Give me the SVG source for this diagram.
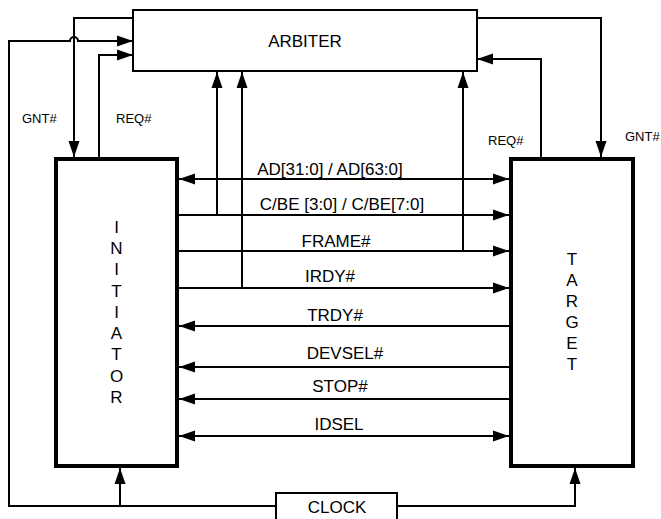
<svg xmlns="http://www.w3.org/2000/svg" width="661" height="519" viewBox="0 0 661 519">
<style>
.box{fill:#fff;stroke:#000;stroke-width:2}
.thick{fill:#fff;stroke:#000;stroke-width:4}
.ln{fill:none;stroke:#000;stroke-width:2}
.t{font-family:"Liberation Sans",Arial,sans-serif;font-size:17px;fill:#000;text-anchor:middle}
.s{font-family:"Liberation Sans",Arial,sans-serif;font-size:13px;fill:#000}
</style>
<defs>
<marker id="ah" markerUnits="userSpaceOnUse" markerWidth="16" markerHeight="12" refX="16" refY="6" orient="auto-start-reverse">
<path d="M0,0.5 L16,6 L0,11.5 Z" fill="#000"/>
</marker>
</defs>
<g id="connectors">
<path class="ln" d="M133,18 H74 V157" marker-end="url(#ah)"/>
<path class="ln" d="M276,506 H9 V41 H70 A4,4 0 0 1 78,41 H133" marker-end="url(#ah)"/>
<path class="ln" d="M99,157 V55 H133" marker-end="url(#ah)"/>
<path class="ln" d="M477,18 H601 V157" marker-end="url(#ah)"/>
<path class="ln" d="M541,157 V59 H477" marker-end="url(#ah)"/>
<path class="ln" d="M397,506 H575 V468" marker-end="url(#ah)"/>
<path class="ln" d="M120,506 V468" marker-end="url(#ah)"/>
<path class="ln" d="M217,215 V72" marker-end="url(#ah)"/>
<path class="ln" d="M242,288 V72" marker-end="url(#ah)"/>
<path class="ln" d="M463,251 V72" marker-end="url(#ah)"/>
<path class="ln" d="M179,179 H509" marker-start="url(#ah)" marker-end="url(#ah)"/>
<path class="ln" d="M179,215 H509" marker-end="url(#ah)"/>
<path class="ln" d="M179,251 H509" marker-end="url(#ah)"/>
<path class="ln" d="M179,288 H509" marker-end="url(#ah)"/>
<path class="ln" d="M509,326 H179" marker-end="url(#ah)"/>
<path class="ln" d="M509,367 H179" marker-end="url(#ah)"/>
<path class="ln" d="M509,399 H179" marker-end="url(#ah)"/>
<path class="ln" d="M179,436 H509" marker-start="url(#ah)" marker-end="url(#ah)"/>
</g>
<g id="labels">
<text class="s" x="22" y="123">GNT#</text>
<text class="s" x="116" y="123">REQ#</text>
<text class="s" x="488" y="145">REQ#</text>
<text class="s" x="625" y="141">GNT#</text>
<text class="t" x="330" y="175">AD[31:0] / AD[63:0]</text>
<text class="t" x="342" y="210">C/BE [3:0] / C/BE[7:0]</text>
<text class="t" x="336" y="247">FRAME#</text>
<text class="t" x="330" y="282">IRDY#</text>
<text class="t" x="335" y="321">TRDY#</text>
<text class="t" x="345" y="359">DEVSEL#</text>
<text class="t" x="340" y="392">STOP#</text>
<text class="t" x="339" y="430">IDSEL</text>
</g>
<g id="arbiter">
<rect class="box" x="133" y="10" width="344" height="61"/>
<text class="t" x="305" y="47">ARBITER</text>
</g>
<g id="initiator">
<rect class="thick" x="56" y="159" width="121" height="307"/>
<text class="t" x="116.5" y="233">I</text>
<text class="t" x="116.5" y="254">N</text>
<text class="t" x="116.5" y="275">I</text>
<text class="t" x="116.5" y="297">T</text>
<text class="t" x="116.5" y="318">I</text>
<text class="t" x="116.5" y="339">A</text>
<text class="t" x="116.5" y="360">T</text>
<text class="t" x="116.5" y="382">O</text>
<text class="t" x="116.5" y="403">R</text>
</g>
<g id="target">
<rect class="thick" x="511" y="159" width="122" height="307"/>
<text class="t" x="572" y="265">T</text>
<text class="t" x="572" y="286">A</text>
<text class="t" x="572" y="307">R</text>
<text class="t" x="572" y="328">G</text>
<text class="t" x="572" y="349">E</text>
<text class="t" x="572" y="370">T</text>
</g>
<g id="clock">
<rect class="box" x="276" y="493" width="121" height="40"/>
<text class="t" x="337" y="513">CLOCK</text>
</g>
</svg>
